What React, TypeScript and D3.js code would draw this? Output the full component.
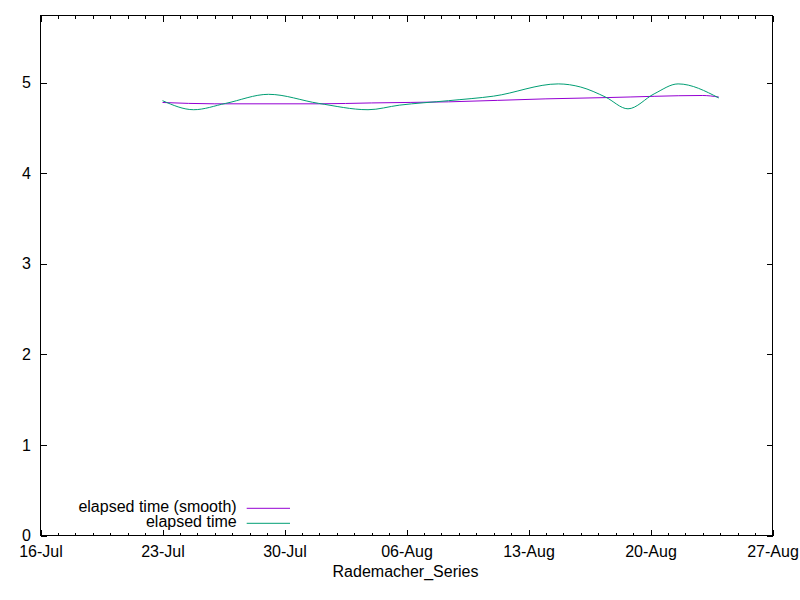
import React, {Component} from 'react';
import * as d3 from 'd3';

interface Point {
  date: Date;
  value: number;
}

// elapsed time
const elapsedDates = [
  '2019-07-23T00:00', '2019-07-24T19:00', '2019-07-26T15:00', '2019-07-29T02:00',
  '2019-07-31T23:00', '2019-08-03T19:00', '2019-08-05T14:00', '2019-08-08T10:00',
  '2019-08-11T00:00', '2019-08-14T17:00', '2019-08-16T00:00', '2019-08-17T10:00',
  '2019-08-18T17:00', '2019-08-20T05:00', '2019-08-21T14:00', '2019-08-23T22:00',
];
const elapsedValues = [
  4.80, 4.70, 4.77, 4.87,
  4.77, 4.70, 4.75, 4.80,
  4.85, 4.985, 4.95, 4.84,
  4.71, 4.875, 4.985, 4.83,
];

// elapsed time (smooth)
const smoothDates = [
  '2019-07-23T00:00', '2019-07-26T00:00', '2019-08-01T00:00', '2019-08-04T00:00',
  '2019-08-08T10:00', '2019-08-14T00:00', '2019-08-17T12:00', '2019-08-23T00:00',
  '2019-08-23T22:00',
];
const smoothValues = [4.78, 4.765, 4.765, 4.775, 4.787, 4.82, 4.834, 4.857, 4.84];

const xTickDates = ['2019-07-16', '2019-07-23', '2019-07-30', '2019-08-06', '2019-08-13', '2019-08-20', '2019-08-27'];
const yTicks = [0, 1, 2, 3, 4, 5];
const seriesNames = ['elapsed time (smooth)', 'elapsed time'];
const seriesColors = ['#9400d3', '#009e73'];
const xLabel = 'Rademacher_Series';

const FONT = '"Liberation Sans", Arial, sans-serif';
const FONT_SIZE = 16;

export default class App extends Component {
  private el = React.createRef<SVGSVGElement>();

  componentDidMount(): void {
    const svg = d3.select(this.el.current);
    const left = 40.5, right = 772.5, top = 15.5, bottom = 535.5;

    const parse = (s: string) => new Date(s);
    const ticks = xTickDates.map(parse);
    const xScale = d3.scaleTime().domain([ticks[0], ticks[ticks.length - 1]]).range([left, right]);
    const yScale = d3.scaleLinear().domain([0, 5.74]).range([bottom, top]);

    const minor = d3.timeDay.range(ticks[0], ticks[ticks.length - 1]);
    const fmt = d3.timeFormat('%d-%b');

    // minor day ticks, bottom and top
    const g = svg.append('g').attr('stroke', 'black').attr('stroke-width', 1).attr('shape-rendering', 'crispEdges');
    minor.forEach(d => {
      const x = Math.round(xScale(d)) + 0.5;
      g.append('line').attr('x1', x).attr('x2', x).attr('y1', bottom).attr('y2', bottom - 3);
      g.append('line').attr('x1', x).attr('x2', x).attr('y1', top).attr('y2', top + 3);
    });

    const xAxis = d3.axisBottom(xScale).tickValues(ticks).tickFormat(d => fmt(d as Date)).tickSize(-6).tickPadding(9.8);
    const xTop = d3.axisTop(xScale).tickValues(ticks).tickFormat(() => '').tickSize(-6);
    const yAxis = d3.axisLeft(yScale).tickValues(yTicks).tickFormat(d3.format('d')).tickSize(-6).tickPadding(9.5);
    const yRight = d3.axisRight(yScale).tickValues(yTicks).tickFormat(() => '').tickSize(-6);

    const axes = [
      svg.append('g').attr('transform', `translate(0,${bottom})`).call(xAxis),
      svg.append('g').attr('transform', `translate(0,${top})`).call(xTop),
      svg.append('g').attr('transform', `translate(${left},0)`).call(yAxis),
      svg.append('g').attr('transform', `translate(${right},0)`).call(yRight),
    ];
    axes.forEach(a => {
      a.select('.domain').remove();
      a.attr('font-family', FONT).attr('font-size', FONT_SIZE);
      a.selectAll('line').attr('shape-rendering', 'crispEdges');
      a.selectAll('text').attr('fill', 'black');
    });

    svg.append('rect')
      .attr('x', left).attr('y', top)
      .attr('width', right - left).attr('height', bottom - top)
      .attr('fill', 'none').attr('stroke', 'black').attr('shape-rendering', 'crispEdges');

    svg.append('text')
      .attr('x', (left + right) / 2 - 1).attr('y', 576.7)
      .attr('text-anchor', 'middle')
      .attr('font-family', FONT).attr('font-size', FONT_SIZE)
      .text(xLabel);

    const smooth: Point[] = smoothDates.map((d, i) => ({date: parse(d), value: smoothValues[i]}));
    const elapsed: Point[] = elapsedDates.map((d, i) => ({date: parse(d), value: elapsedValues[i]}));

    const line = d3.line<Point>().x(d => xScale(d.date)).y(d => yScale(d.value)).curve(d3.curveMonotoneX);
    [smooth, elapsed].forEach((data, i) => {
      svg.append('path')
        .datum(data)
        .attr('fill', 'none')
        .attr('stroke', seriesColors[i])
        .attr('stroke-width', 1)
        .attr('d', line);
    });

    // key
    seriesNames.forEach((name, i) => {
      const base = 511.7 + i * 15;
      svg.append('text')
        .attr('x', 236.7).attr('y', base)
        .attr('text-anchor', 'end')
        .attr('font-family', FONT).attr('font-size', FONT_SIZE)
        .text(name);
      svg.append('line')
        .attr('x1', 246.7).attr('x2', 290)
        .attr('y1', base - 3.4).attr('y2', base - 3.4)
        .attr('stroke', seriesColors[i]).attr('stroke-width', 1);
    });
  }

  render() {
    return (
      <svg
        ref={this.el}
        width={800}
        height={600}
        style={{position: 'absolute', left: 0, top: 0, background: 'white'}}
      />
    );
  }
}
